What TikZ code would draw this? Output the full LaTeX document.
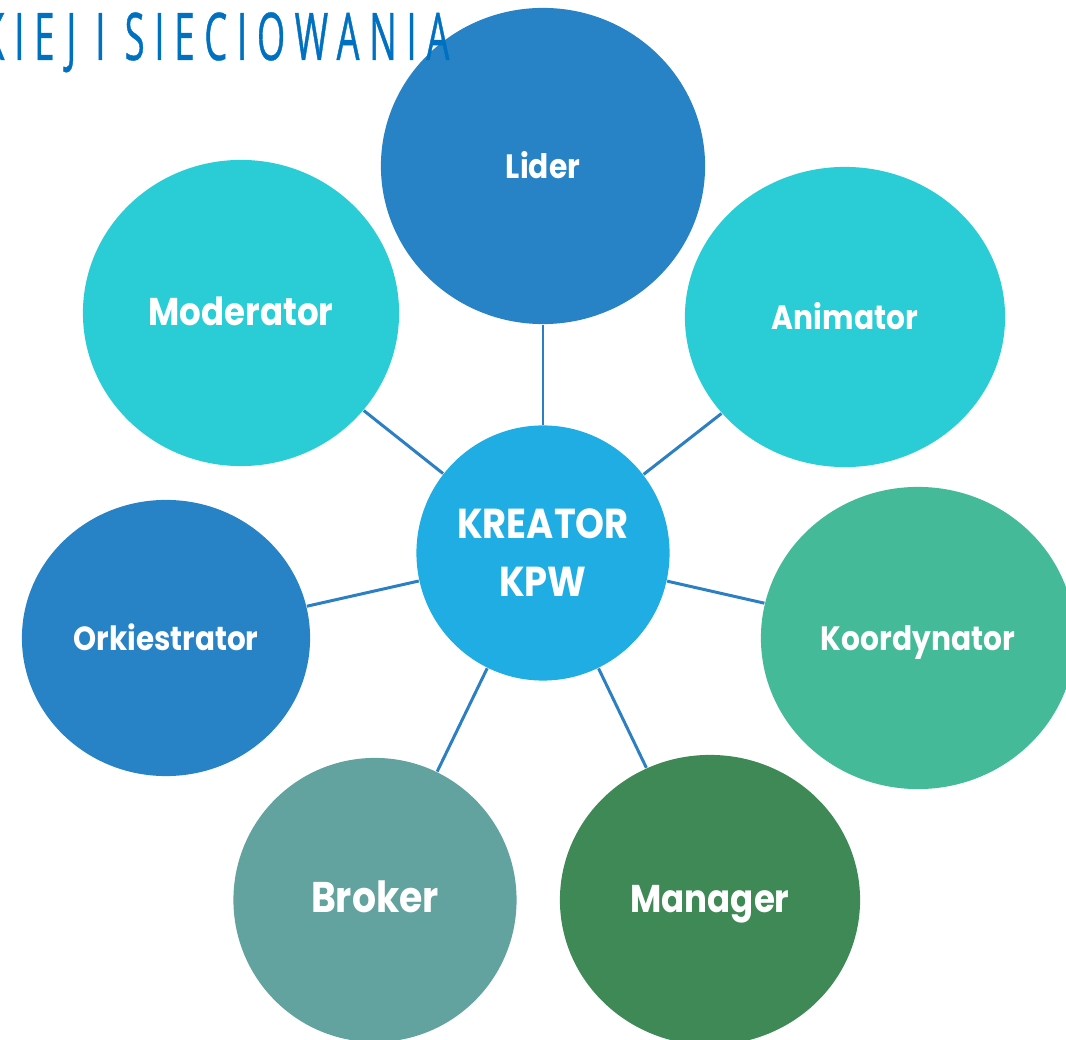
\documentclass[tikz,border=0pt]{standalone}
\usepackage{fontspec}
\setmainfont{Poppins}[FakeStretch=0.88]
\newfontfamily\titlefont{Open Sans}[FakeStretch=0.55, LetterSpace=15, FakeBold=0.6]
\usetikzlibrary{shapes.geometric}
\definecolor{cLider}{HTML}{2883C6}
\definecolor{cCyan}{HTML}{2ACDD6}
\definecolor{cKreator}{HTML}{1FADE3}
\definecolor{cKoord}{HTML}{44BA98}
\definecolor{cBroker}{HTML}{62A39F}
\definecolor{cManager}{HTML}{3E8955}
\definecolor{cTitle}{HTML}{0070C0}
\definecolor{cLine}{HTML}{2C7FC3}
\tikzset{
  bub/.style={ellipse, inner sep=0pt, text=white, font=\bfseries, align=center},
  one/.style={text height=0.7em, text depth=0pt},
  link/.style={draw=cLine, line width=0.85pt},
}
\begin{document}
\begin{tikzpicture}[x=0.01cm,y=-0.01cm]
\useasboundingbox (0,0) rectangle (1066,1040);
\clip (0,0) rectangle (1066,1040);
\node[bub, one, fill=cLider, minimum width=3.24cm, minimum height=3.16cm, font=\bfseries\fontsize{9.6}{12}\selectfont] (lider) at (543,166) {Lider};
\node[bub, one, fill=cCyan, minimum width=3.16cm, minimum height=3.06cm, font=\bfseries\fontsize{11}{13}\selectfont] (moderator) at (241,313) {Moderator};
\node[bub, one, fill=cCyan, minimum width=3.20cm, minimum height=3.00cm, font=\bfseries\fontsize{9.6}{12}\selectfont] (animator) at (845,317) {Animator};
\node[bub, fill=cKreator, minimum width=2.53cm, minimum height=2.55cm, font=\bfseries\fontsize{11.9}{16.5}\selectfont] (kreator) at (543,553) {KREATOR\\KPW};
\node[bub, one, fill=cLider, minimum width=2.88cm, minimum height=2.76cm, font=\bfseries\fontsize{9.5}{12}\selectfont] (orkiestrator) at (166,638) {Orkiestrator};
\node[bub, one, fill=cKoord, minimum width=3.14cm, minimum height=3.02cm, font=\bfseries\fontsize{9.6}{12}\selectfont] (koordynator) at (918,638) {Koordynator};
\node[bub, one, fill=cBroker, minimum width=2.83cm, minimum height=2.84cm, font=\bfseries\fontsize{12.2}{14}\selectfont] (broker) at (375,900) {Broker};
\node[bub, one, fill=cManager, minimum width=3.00cm, minimum height=2.90cm, font=\bfseries\fontsize{11}{13}\selectfont] (manager) at (710,900) {Manager};
\draw[link] (lider) -- (kreator);
\draw[link] (moderator) -- (kreator);
\draw[link] (animator) -- (kreator);
\draw[link] (orkiestrator) -- (kreator);
\draw[link] (koordynator) -- (kreator);
\draw[link] (broker) -- (kreator);
\draw[link] (manager) -- (kreator);
\node[anchor=base east, inner sep=0pt, text=cTitle, font=\titlefont\fontsize{18.7}{20}\selectfont] (title) at (450,60) {KIEJ I SIECIOWANIA};
\end{tikzpicture}
\end{document}
